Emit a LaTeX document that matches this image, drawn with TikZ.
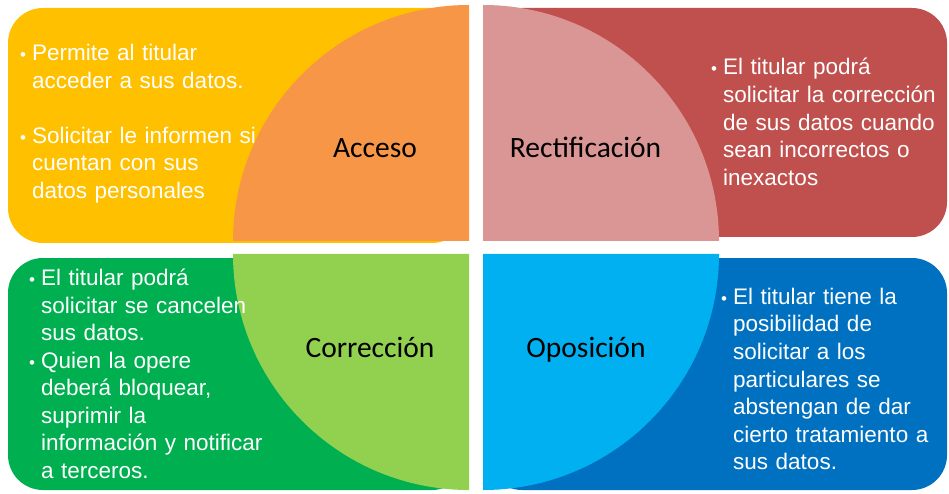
\documentclass[tikz,border=0pt]{standalone}
\usepackage{fontspec}
\setmainfont{Liberation Sans}
\newfontfamily\headfont{Carlito}
\definecolor{cyel}{HTML}{FFC000}
\definecolor{cora}{HTML}{F79646}
\definecolor{cred}{HTML}{C0504D}
\definecolor{cpink}{HTML}{D99694}
\definecolor{cgrn}{HTML}{00B050}
\definecolor{clgrn}{HTML}{92D050}
\definecolor{cblu}{HTML}{0070C0}
\definecolor{clblu}{HTML}{00B0F0}
\begin{document}
\begin{tikzpicture}[x=1pt,y=1pt,
  panel/.style={rounded corners=35pt},
  body/.style={text=white,font={\fontsize{22.5}{27.6}\selectfont},inner sep=0pt,anchor=base west,align=left,text width=#1},
  bul/.style={text=white,font={\fontsize{17}{27.6}\selectfont},inner sep=0pt,anchor=base west},
  head/.style={text=black,font={\headfont\fontsize{29.5}{32}\selectfont},inner sep=0pt,anchor=base}]
\useasboundingbox (0,0) rectangle (949,493);
% panels
\fill[cyel,panel] (8,250) rectangle (467,485);
\fill[cred,panel] (487,256) rectangle (947,485);
\fill[cgrn,panel] (8,3) rectangle (467,235);
\fill[cblu,panel] (487,3) rectangle (947,235);
% quarter circles
\fill[cora] (469,252) -- (233,252) arc[start angle=180,end angle=90,radius=236] -- cycle;
\fill[cpink] (483,252) -- (483,488) arc[start angle=90,end angle=0,radius=236] -- cycle;
\fill[clgrn] (469,239) -- (233,239) arc[start angle=180,end angle=270,radius=236] -- cycle;
\fill[clblu] (483,239) -- (483,3) arc[start angle=270,end angle=360,radius=236] -- cycle;
% headings
\node[head] (acc) at (375,335) {Acceso};
\node[head] (rec) at (585.5,335) {Rectificación};
\node[head] (cor) at (370,136) {Corrección};
\node[head] (opo) at (586,136) {Oposición};
% yellow text
\node[bul] (b1) at (20,432) {•};
\node[body=230pt] (t1) at (32,432) {Permite al titular\\acceder a sus datos.};
\node[bul] (b2) at (20,349.7) {•};
\node[body=240pt] (t2) at (32,349.7) {Solicitar le informen si\\cuentan con sus\\datos personales};
% red text
\node[bul] (b3) at (711,418) {•};
\node[body=230pt] (t3) at (723,418) {El titular podrá\\solicitar la corrección\\de sus datos cuando\\sean incorrectos o\\inexactos};
% green text
\node[bul] (b4) at (29,207.5) {•};
\node[body=240pt] (t4) at (41,207.5) {El titular podrá\\solicitar se cancelen\\sus datos.};
\node[bul] (b5) at (29,125) {•};
\node[body=240pt] (t5) at (41,125) {Quien la opere\\deberá bloquear,\\suprimir la\\información y notificar\\a terceros.};
% blue text
\node[bul] (b6) at (721,188.7) {•};
\node[body=220pt] (t6) at (733,188.7) {El titular tiene la\\posibilidad de\\solicitar a los\\particulares se\\abstengan de dar\\cierto tratamiento a\\sus datos.};
\end{tikzpicture}
\end{document}
